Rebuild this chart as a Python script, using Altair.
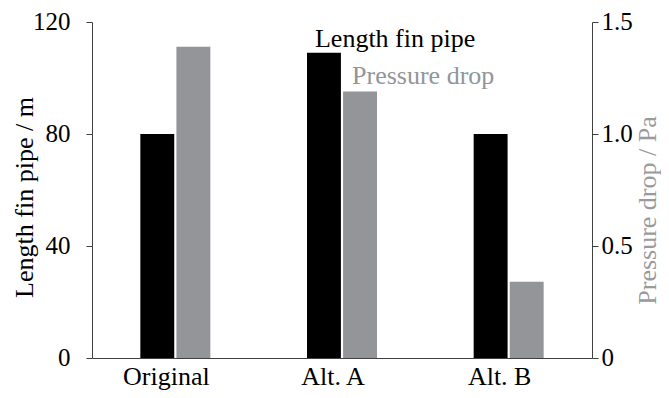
import altair as alt
import pandas as pd

categories = ["Original", "Alt. A", "Alt. B"]
series_names = ["Length fin pipe", "Pressure drop"]
length_m = [80, 109, 80]
pressure_pa = [1.39, 1.19, 0.34]
label_category = "Alt. A"
colors = ["#000000", "#939598"]

df = pd.DataFrame({
    "cat": categories * 2,
    "series": [series_names[0]] * 3 + [series_names[1]] * 3,
    "value": length_m + pressure_pa,
})

FONT = "'Liberation Serif', 'DejaVu Serif', serif"
FS = 26
FST = 25
AXC = "#404040"

x = alt.X("cat:N", sort=categories,
          scale=alt.Scale(paddingInner=0.58, paddingOuter=0.29),
          axis=alt.Axis(title=None, labelAngle=0, ticks=False, labelPadding=26,
                        labelBaseline="alphabetic", labelOffset=-9, domainColor=AXC,
                        labelColor="black", labelFont=FONT, labelFontSize=FS))
xo = alt.XOffset("series:N", sort=series_names,
                 scale=alt.Scale(domain=series_names, paddingInner=0.06))
color = alt.Color("series:N", scale=alt.Scale(domain=series_names, range=colors), legend=None)

y_left = alt.Y("value:Q", scale=alt.Scale(domain=[0, 120], nice=False),
               axis=alt.Axis(title="Length fin pipe / m", orient="left", values=[0, 40, 80, 120],
                             grid=False, tickSize=6, labelPadding=16, labelOffset=-1,
                             domainColor=AXC, tickColor=AXC,
                             labelColor="black", labelFont=FONT, labelFontSize=FST,
                             titleFont=FONT, titleFontSize=FS, titleFontWeight="normal",
                             titleColor="black", titleAngle=270, titleX=-60, titleY=175,
                             titleAlign="center", titleBaseline="alphabetic"))
y_right = alt.Y("value:Q", scale=alt.Scale(domain=[0, 1.5], nice=False),
                axis=alt.Axis(title="Pressure drop / Pa", orient="right", values=[0, 0.5, 1.0, 1.5],
                              labelExpr="datum.value == 0 ? '0' : format(datum.value, '.1f')",
                              grid=False, tickSize=6, labelPadding=3, labelOffset=-1,
                              domainColor=AXC, tickColor=AXC,
                              labelColor="black", labelFont=FONT, labelFontSize=FST,
                              titleFont=FONT, titleFontSize=FS, titleFontWeight="normal",
                              titleColor="#9a9a9d", titleAngle=270, titleX=63, titleY=188,
                              titleAlign="center", titleBaseline="alphabetic"))

base = alt.Chart(df).encode(x=x, xOffset=xo, color=color)

left_base = base.transform_filter(alt.datum.series == series_names[0]).encode(y=y_left)
left_bars = left_base.mark_bar()
left_text = left_base.transform_filter(alt.datum.cat == label_category).mark_text(
    align="left", baseline="alphabetic", dx=-9, dy=-6, font=FONT, fontSize=FS
).encode(text="series:N")

right_base = base.transform_filter(alt.datum.series == series_names[1]).encode(y=y_right)
right_bars = right_base.mark_bar()
right_text = right_base.transform_filter(alt.datum.cat == label_category).mark_text(
    align="left", baseline="alphabetic", dx=-8, dy=-7, font=FONT, fontSize=FS
).encode(text="series:N")

chart = alt.layer(
    alt.layer(left_bars, left_text),
    alt.layer(right_bars, right_text),
).resolve_scale(y="independent").properties(
    width=500, height=336,
    autosize=alt.AutoSizeParams(type="none"),
    padding={"left": 84, "top": 14, "right": 69, "bottom": 32},
).configure_view(stroke=None)

chart.save("out.html", embed_options={"renderer": "svg", "actions": False})
